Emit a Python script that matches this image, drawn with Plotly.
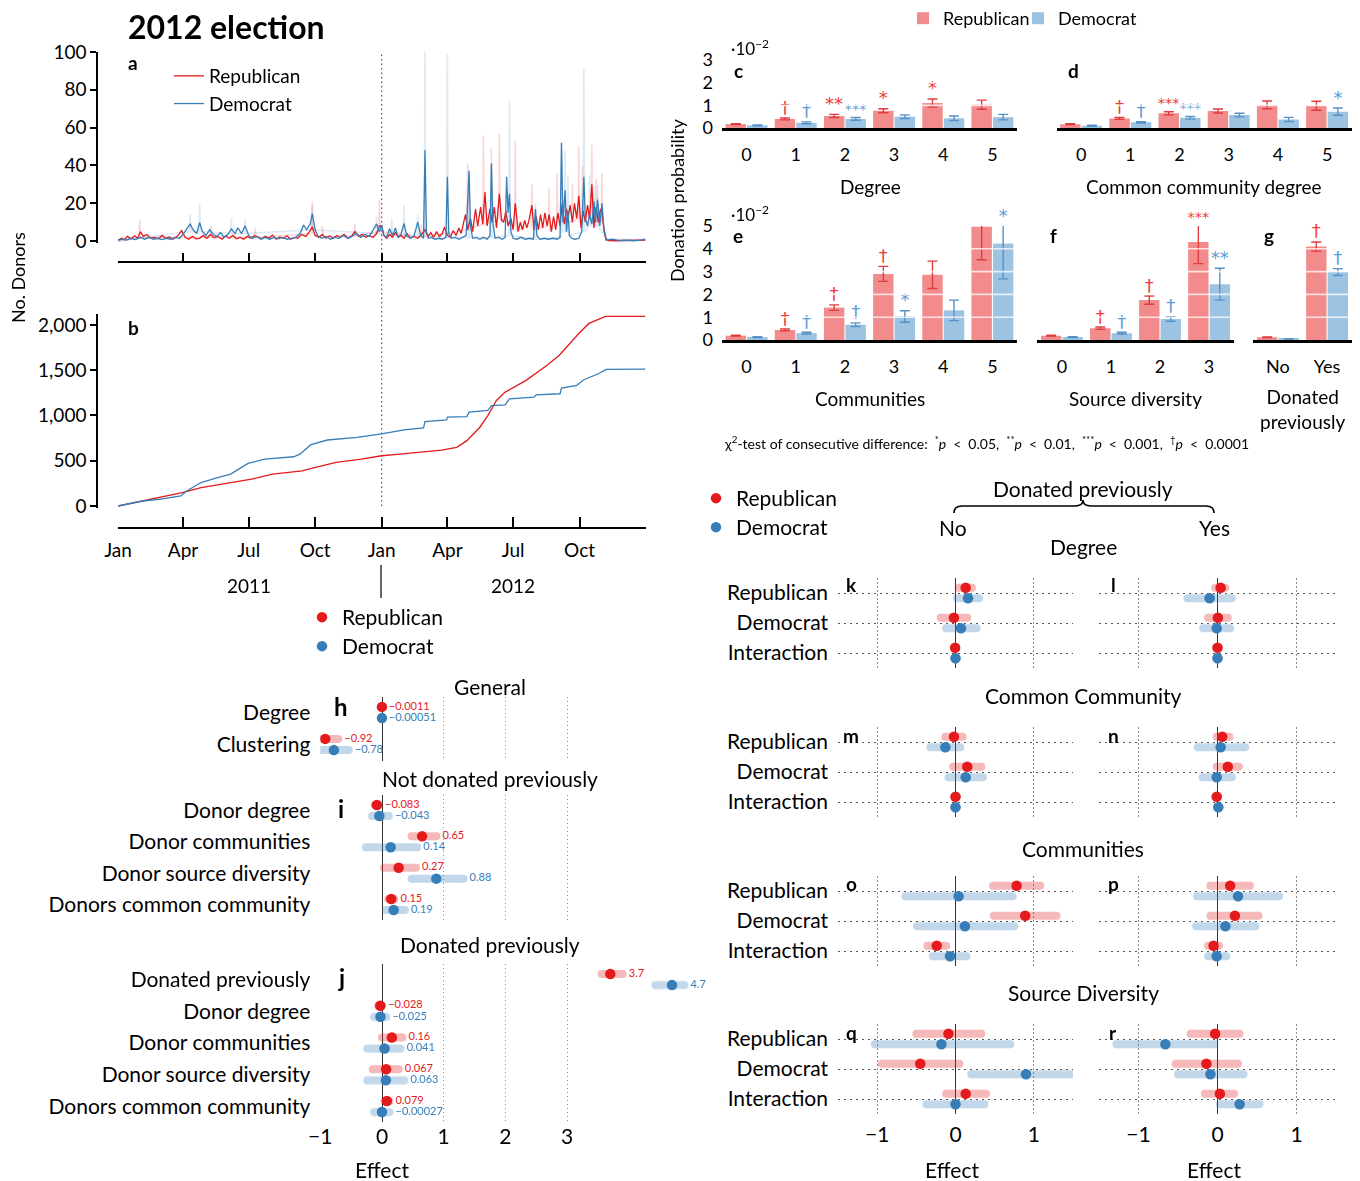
import plotly.graph_objects as go

# ======================= DATA =======================
# panel a: smoothed daily number of donors
rep_daily = [
    ('2011-01-01', 0.5), ('2011-01-06', 1.5), ('2011-01-10', 0.8), ('2011-01-14', 2.5), ('2011-01-19', 1.2),
    ('2011-01-24', 2.8), ('2011-01-28', 1.5), ('2011-02-01', 5.0), ('2011-02-05', 2.5), ('2011-02-10', 3.5),
    ('2011-02-15', 1.5), ('2011-02-20', 2.0), ('2011-02-26', 1.2), ('2011-03-03', 3.0), ('2011-03-08', 1.5),
    ('2011-03-13', 2.2), ('2011-03-18', 1.0), ('2011-03-24', 2.5), ('2011-03-30', 5.5), ('2011-04-04', 2.0),
    ('2011-04-09', 1.0), ('2011-04-14', 2.5), ('2011-04-19', 1.2), ('2011-04-24', 1.5), ('2011-04-29', 3.0),
    ('2011-05-04', 1.5), ('2011-05-09', 3.5), ('2011-05-14', 1.8), ('2011-05-19', 2.5), ('2011-05-25', 1.0),
    ('2011-05-30', 2.8), ('2011-06-04', 1.5), ('2011-06-09', 3.0), ('2011-06-14', 1.2), ('2011-06-19', 2.0),
    ('2011-06-24', 1.0), ('2011-06-29', 2.5), ('2011-07-04', 1.5), ('2011-07-09', 3.0), ('2011-07-14', 2.0),
    ('2011-07-19', 1.2), ('2011-07-24', 2.5), ('2011-07-29', 1.5), ('2011-08-03', 3.2), ('2011-08-08', 1.0),
    ('2011-08-13', 2.2), ('2011-08-18', 1.5), ('2011-08-23', 2.8), ('2011-08-28', 1.0), ('2011-09-02', 2.0),
    ('2011-09-07', 1.5), ('2011-09-12', 3.5), ('2011-09-18', 2.5), ('2011-09-23', 5.0), ('2011-09-27', 7.5),
    ('2011-10-01', 3.0), ('2011-10-06', 2.0), ('2011-10-11', 3.5), ('2011-10-16', 1.5), ('2011-10-21', 2.8),
    ('2011-10-26', 1.5), ('2011-10-31', 3.0), ('2011-11-05', 2.0), ('2011-11-10', 3.5), ('2011-11-15', 1.5),
    ('2011-11-20', 2.5), ('2011-11-25', 5.0), ('2011-11-30', 2.5), ('2011-12-05', 3.5), ('2011-12-10', 2.0),
    ('2011-12-15', 3.0), ('2011-12-20', 2.0), ('2011-12-25', 4.0), ('2011-12-29', 8.0),
    ('2012-01-01', 8.0), ('2012-01-04', 3.0), ('2012-01-08', 1.5), ('2012-01-12', 3.5), ('2012-01-16', 2.0),
    ('2012-01-20', 4.5), ('2012-01-24', 2.0), ('2012-01-28', 3.0), ('2012-02-01', 1.5), ('2012-02-05', 4.0),
    ('2012-02-10', 1.5), ('2012-02-15', 2.5), ('2012-02-20', 1.5), ('2012-02-25', 3.5), ('2012-03-01', 6.0),
    ('2012-03-05', 2.5), ('2012-03-09', 4.5), ('2012-03-13', 2.0), ('2012-03-17', 5.0), ('2012-03-21', 2.5),
    ('2012-03-25', 4.0), ('2012-03-28', 7.5), ('2012-04-01', 3.0), ('2012-04-05', 2.0), ('2012-04-09', 5.5),
    ('2012-04-13', 3.0), ('2012-04-17', 7.0), ('2012-04-20', 4.0), ('2012-04-23', 9.0), ('2012-04-26', 14.0),
    ('2012-04-29', 6.0), ('2012-05-03', 12.0), ('2012-05-06', 5.0), ('2012-05-10', 17.0), ('2012-05-13', 8.0),
    ('2012-05-17', 18.0), ('2012-05-20', 9.0), ('2012-05-23', 26.0), ('2012-05-26', 8.0), ('2012-05-30', 17.0),
    ('2012-06-02', 10.0), ('2012-06-05', 18.0), ('2012-06-08', 7.0), ('2012-06-12', 25.0), ('2012-06-15', 11.0),
    ('2012-06-18', 10.0), ('2012-06-21', 16.0), ('2012-06-24', 8.0), ('2012-06-28', 12.0), ('2012-07-01', 6.0),
    ('2012-07-04', 20.0), ('2012-07-08', 5.0), ('2012-07-11', 10.0), ('2012-07-14', 6.0), ('2012-07-17', 11.0),
    ('2012-07-20', 7.0), ('2012-07-23', 11.0), ('2012-07-27', 19.0), ('2012-07-30', 6.0), ('2012-08-02', 13.0),
    ('2012-08-05', 6.0), ('2012-08-08', 14.0), ('2012-08-11', 7.0), ('2012-08-14', 15.0), ('2012-08-17', 8.0),
    ('2012-08-20', 14.0), ('2012-08-23', 5.0), ('2012-08-26', 13.0), ('2012-08-29', 6.0), ('2012-09-01', 15.0),
    ('2012-09-04', 8.0), ('2012-09-07', 20.0), ('2012-09-10', 9.0), ('2012-09-13', 17.0), ('2012-09-15', 12.0),
    ('2012-09-18', 19.0), ('2012-09-21', 10.0), ('2012-09-24', 20.0), ('2012-09-27', 12.0), ('2012-09-30', 24.0),
    ('2012-10-03', 7.0), ('2012-10-06', 16.0), ('2012-10-09', 10.0), ('2012-10-12', 19.0), ('2012-10-15', 12.0),
    ('2012-10-18', 30.0), ('2012-10-21', 7.0), ('2012-10-24', 18.0), ('2012-10-27', 10.0), ('2012-10-30', 17.0),
    ('2012-11-01', 15.0), ('2012-11-04', 6.0), ('2012-11-07', 1.0), ('2012-11-10', 0.3), ('2012-11-20', 0.2),
    ('2012-12-01', 0.3), ('2012-12-15', 0.2), ('2012-12-31', 0.5),
]
dem_daily = [
    ('2011-01-01', 0.5), ('2011-01-07', 1.0), ('2011-01-13', 0.5), ('2011-01-19', 1.5), ('2011-01-25', 0.8),
    ('2011-02-01', 2.0), ('2011-02-07', 1.0), ('2011-02-13', 2.0), ('2011-02-19', 1.0), ('2011-02-25', 1.5),
    ('2011-03-03', 0.8), ('2011-03-09', 1.5), ('2011-03-15', 1.0), ('2011-03-21', 2.0), ('2011-03-27', 1.5),
    ('2011-04-02', 4.0), ('2011-04-07', 7.0), ('2011-04-11', 9.0), ('2011-04-15', 6.0), ('2011-04-20', 4.0),
    ('2011-04-24', 9.7), ('2011-04-28', 5.0), ('2011-05-03', 3.0), ('2011-05-08', 6.0), ('2011-05-13', 3.5),
    ('2011-05-18', 2.5), ('2011-05-23', 4.5), ('2011-05-28', 2.0), ('2011-06-02', 3.5), ('2011-06-07', 6.5),
    ('2011-06-12', 4.0), ('2011-06-16', 7.0), ('2011-06-21', 4.0), ('2011-06-26', 8.0), ('2011-07-01', 3.0),
    ('2011-07-06', 1.5), ('2011-07-12', 2.5), ('2011-07-18', 1.0), ('2011-07-24', 2.0), ('2011-07-30', 1.0),
    ('2011-08-05', 2.0), ('2011-08-11', 1.2), ('2011-08-17', 2.0), ('2011-08-23', 1.0), ('2011-08-29', 1.5),
    ('2011-09-04', 2.0), ('2011-09-10', 4.0), ('2011-09-15', 8.5), ('2011-09-19', 6.0), ('2011-09-24', 9.0),
    ('2011-09-27', 14.5), ('2011-10-01', 6.0), ('2011-10-05', 2.5), ('2011-10-10', 1.5), ('2011-10-16', 2.5),
    ('2011-10-22', 1.0), ('2011-10-28', 2.0), ('2011-11-03', 1.5), ('2011-11-09', 3.0), ('2011-11-15', 1.5),
    ('2011-11-21', 2.5), ('2011-11-27', 4.0), ('2011-12-03', 2.0), ('2011-12-09', 3.5), ('2011-12-15', 2.5),
    ('2011-12-20', 6.0), ('2011-12-25', 9.0), ('2011-12-29', 5.0),
    ('2012-01-01', 8.5), ('2012-01-04', 3.0), ('2012-01-08', 2.0), ('2012-01-12', 6.5), ('2012-01-16', 3.0),
    ('2012-01-20', 7.0), ('2012-01-24', 2.0), ('2012-01-28', 4.0), ('2012-02-01', 9.3), ('2012-02-05', 2.5),
    ('2012-02-10', 1.5), ('2012-02-15', 3.0), ('2012-02-20', 10.0), ('2012-02-24', 3.0), ('2012-02-28', 1.5),
    ('2012-03-01', 48.0), ('2012-03-03', 5.0), ('2012-03-06', 1.5), ('2012-03-10', 2.0), ('2012-03-15', 1.0),
    ('2012-03-20', 1.5), ('2012-03-25', 1.0), ('2012-03-30', 2.0), ('2012-04-01', 34.0), ('2012-04-03', 4.0),
    ('2012-04-07', 1.5), ('2012-04-12', 2.0), ('2012-04-17', 1.0), ('2012-04-22', 2.0), ('2012-04-27', 3.0),
    ('2012-05-01', 37.0), ('2012-05-03', 8.0), ('2012-05-06', 1.5), ('2012-05-11', 2.0), ('2012-05-16', 1.0),
    ('2012-05-21', 2.0), ('2012-05-26', 1.0), ('2012-05-30', 3.0), ('2012-06-01', 41.0), ('2012-06-03', 10.0),
    ('2012-06-06', 1.5), ('2012-06-11', 2.0), ('2012-06-16', 1.0), ('2012-06-20', 2.0), ('2012-06-22', 34.0),
    ('2012-06-24', 15.0), ('2012-06-26', 25.0), ('2012-06-28', 5.0), ('2012-07-01', 1.5), ('2012-07-06', 1.0),
    ('2012-07-12', 2.0), ('2012-07-18', 1.0), ('2012-07-24', 1.5), ('2012-07-29', 1.0), ('2012-08-01', 17.0),
    ('2012-08-03', 3.0), ('2012-08-07', 1.0), ('2012-08-13', 1.5), ('2012-08-19', 1.0), ('2012-08-25', 1.5),
    ('2012-08-31', 1.0), ('2012-09-04', 2.0), ('2012-09-06', 52.0), ('2012-09-08', 10.0), ('2012-09-11', 27.0),
    ('2012-09-13', 5.0), ('2012-09-15', 16.0), ('2012-09-17', 3.0), ('2012-09-20', 1.5), ('2012-09-25', 1.0),
    ('2012-09-30', 1.5), ('2012-10-04', 5.0), ('2012-10-07', 34.0), ('2012-10-09', 12.0), ('2012-10-12', 8.0),
    ('2012-10-15', 14.0), ('2012-10-18', 9.0), ('2012-10-21', 21.0), ('2012-10-23', 10.0), ('2012-10-26', 22.0),
    ('2012-10-29', 8.0), ('2012-11-01', 20.0), ('2012-11-04', 5.0), ('2012-11-07', 0.5), ('2012-11-15', 1.0),
    ('2012-11-25', 0.3), ('2012-12-05', 0.5), ('2012-12-15', 0.2), ('2012-12-25', 0.5), ('2012-12-31', 1.0),
]
# panel a: raw daily counts (faint lines, spikes)
rep_daily_raw = [
    ('2011-01-01', 0), ('2011-01-30', 2), ('2011-01-31', 11), ('2011-02-01', 2),
    ('2011-05-09', 2), ('2011-05-10', 8), ('2011-05-11', 2),
    ('2011-07-09', 2), ('2011-07-10', 7), ('2011-07-11', 2),
    ('2011-09-26', 4), ('2011-09-27', 21), ('2011-09-28', 4),
    ('2011-10-10', 2), ('2011-10-11', 8), ('2011-10-12', 2),
    ('2011-11-24', 3), ('2011-11-25', 9), ('2011-11-26', 3),
    ('2011-12-28', 5), ('2011-12-29', 22), ('2011-12-30', 5),
    ('2012-02-24', 2), ('2012-02-25', 9), ('2012-02-26', 2),
    ('2012-04-28', 6), ('2012-04-29', 41), ('2012-04-30', 6),
    ('2012-05-20', 9), ('2012-05-21', 56), ('2012-05-22', 9),
    ('2012-05-31', 10), ('2012-06-01', 49), ('2012-06-02', 10),
    ('2012-06-11', 12), ('2012-06-12', 57), ('2012-06-13', 12),
    ('2012-07-03', 8), ('2012-07-04', 53), ('2012-07-05', 6),
    ('2012-07-26', 8), ('2012-07-27', 30), ('2012-07-28', 6),
    ('2012-08-19', 8), ('2012-08-20', 28), ('2012-08-21', 6),
    ('2012-08-30', 8), ('2012-08-31', 36), ('2012-09-01', 10),
    ('2012-09-20', 10), ('2012-09-21', 30), ('2012-09-22', 10),
    ('2012-09-29', 12), ('2012-09-30', 50), ('2012-10-01', 10),
    ('2012-10-04', 10), ('2012-10-05', 40), ('2012-10-06', 12),
    ('2012-10-17', 14), ('2012-10-18', 51), ('2012-10-19', 10),
    ('2012-10-23', 10), ('2012-10-24', 33), ('2012-10-25', 10),
    ('2012-10-31', 10), ('2012-11-01', 36), ('2012-11-02', 8),
    ('2012-11-07', 0.5), ('2012-12-31', 0.5),
]
dem_daily_raw = [
    ('2011-01-01', 0), ('2011-04-10', 5), ('2011-04-11', 14), ('2011-04-12', 5),
    ('2011-04-23', 5), ('2011-04-24', 20), ('2011-04-25', 5),
    ('2011-06-06', 4), ('2011-06-07', 12), ('2011-06-08', 4),
    ('2011-06-25', 4), ('2011-06-26', 12), ('2011-06-27', 4),
    ('2011-09-26', 6), ('2011-09-27', 19), ('2011-09-28', 6),
    ('2011-12-24', 4), ('2011-12-25', 13), ('2011-12-26', 4),
    ('2012-01-14', 3), ('2012-01-15', 12), ('2012-01-16', 3),
    ('2012-01-31', 3), ('2012-02-01', 19), ('2012-02-02', 3),
    ('2012-02-19', 3), ('2012-02-20', 14), ('2012-02-21', 3),
    ('2012-02-29', 3), ('2012-03-01', 100), ('2012-03-02', 3),
    ('2012-03-31', 2), ('2012-04-01', 99), ('2012-04-02', 2),
    ('2012-04-30', 2), ('2012-05-01', 38), ('2012-05-02', 2),
    ('2012-05-31', 2), ('2012-06-01', 41), ('2012-06-02', 2),
    ('2012-06-25', 3), ('2012-06-26', 74), ('2012-06-27', 3),
    ('2012-07-31', 1), ('2012-08-01', 20), ('2012-08-02', 1),
    ('2012-09-05', 2), ('2012-09-06', 52), ('2012-09-07', 5),
    ('2012-09-10', 5), ('2012-09-11', 48), ('2012-09-12', 5),
    ('2012-09-14', 5), ('2012-09-15', 35), ('2012-09-16', 3),
    ('2012-10-06', 5), ('2012-10-07', 91), ('2012-10-08', 5),
    ('2012-10-14', 8), ('2012-10-15', 35), ('2012-10-16', 8),
    ('2012-10-20', 8), ('2012-10-21', 29), ('2012-10-22', 8),
    ('2012-10-25', 8), ('2012-10-26', 30), ('2012-10-27', 8),
    ('2012-11-07', 1), ('2012-12-31', 1),
]
# panel b: cumulative number of donors
rep_cumulative = [
    ('2011-01-01', 0), ('2011-02-04', 55), ('2011-02-27', 92), ('2011-03-31', 148), ('2011-04-26', 203),
    ('2011-06-06', 260), ('2011-07-05', 296), ('2011-08-03', 352), ('2011-09-13', 389), ('2011-09-30', 425),
    ('2011-10-30', 481), ('2011-12-04', 518), ('2012-01-01', 555), ('2012-01-26', 573), ('2012-02-24', 592),
    ('2012-03-24', 618), ('2012-04-14', 648), ('2012-04-28', 722), ('2012-05-16', 870), ('2012-05-27', 999),
    ('2012-06-08', 1166), ('2012-06-20', 1258), ('2012-07-19', 1388), ('2012-08-17', 1554), ('2012-09-03', 1665),
    ('2012-09-30', 1906), ('2012-10-14', 2017), ('2012-11-03', 2091), ('2012-11-06', 2094), ('2012-12-31', 2094),
]
dem_cumulative = [
    ('2011-01-01', 0), ('2011-02-04', 55), ('2011-02-27', 74), ('2011-03-29', 111), ('2011-04-06', 166),
    ('2011-04-26', 259), ('2011-05-20', 315), ('2011-06-06', 352), ('2011-06-30', 470), ('2011-07-23', 518),
    ('2011-09-01', 544), ('2011-09-10', 573), ('2011-09-25', 677), ('2011-10-18', 729), ('2011-11-28', 759),
    ('2012-01-01', 796), ('2012-02-01', 840), ('2012-02-28', 862), ('2012-03-01', 932), ('2012-03-31', 951),
    ('2012-04-01', 981), ('2012-04-28', 988), ('2012-05-01', 1036), ('2012-05-27', 1055), ('2012-06-01', 1110),
    ('2012-06-20', 1117), ('2012-06-26', 1184), ('2012-07-30', 1203), ('2012-08-02', 1228), ('2012-09-04', 1240),
    ('2012-09-06', 1302), ('2012-09-27', 1332), ('2012-10-07', 1395), ('2012-10-27', 1461), ('2012-11-07', 1510),
    ('2012-12-31', 1513),
]
quarter_ticks = ['2011-01-01', '2011-04-01', '2011-07-01', '2011-10-01', '2012-01-01',
                 '2012-04-01', '2012-07-01', '2012-10-01', '2013-01-01']
quarter_labels = ['Jan', 'Apr', 'Jul', 'Oct', 'Jan', 'Apr', 'Jul', 'Oct', ' ']
a_yticks = [0, 20, 40, 60, 80, 100]
b_yticks = [0, 500, 1000, 1500, 2000]
b_yticklabels = ['0', '500', '1,000', '1,500', '2,000']

# panels c-g: donation probability (x 10^-2)
cats6 = [0, 1, 2, 3, 4, 5]
cats4 = [0, 1, 2, 3]
cats_prev = ['No', 'Yes']
c_rep = [0.17, 0.40, 0.53, 0.76, 1.10, 1.03]
c_rep_err = [0.02, 0.04, 0.07, 0.09, 0.18, 0.20]
c_dem = [0.12, 0.23, 0.40, 0.50, 0.43, 0.48]
c_dem_err = [0.02, 0.04, 0.06, 0.08, 0.10, 0.12]
c_rep_sig = ['', '†', '**', '*', '*', '']
c_dem_sig = ['', '†', '***', '', '', '']
d_rep = [0.17, 0.42, 0.65, 0.75, 1.02, 0.98]
d_rep_err = [0.02, 0.04, 0.07, 0.09, 0.17, 0.20]
d_dem = [0.10, 0.25, 0.45, 0.57, 0.38, 0.72]
d_dem_err = [0.02, 0.03, 0.06, 0.08, 0.09, 0.16]
d_rep_sig = ['', '†', '***', '', '', '']
d_dem_sig = ['', '†', '***', '', '', '*']
e_rep = [0.19, 0.44, 1.42, 2.90, 2.86, 4.97]
e_rep_err = [0.02, 0.04, 0.12, 0.33, 0.60, 1.45]
e_dem = [0.13, 0.30, 0.67, 1.03, 1.30, 4.23]
e_dem_err = [0.02, 0.04, 0.08, 0.25, 0.45, 1.55]
e_rep_sig = ['', '†', '†', '†', '', '']
e_dem_sig = ['', '†', '†', '*', '', '*']
f_rep = [0.19, 0.52, 1.75, 4.30]
f_rep_err = [0.02, 0.05, 0.18, 0.95]
f_dem = [0.13, 0.30, 0.92, 2.45]
f_dem_err = [0.02, 0.04, 0.10, 0.70]
f_rep_sig = ['', '†', '†', '***']
f_dem_sig = ['', '†', '†', '**']
g_rep = [0.12, 4.10]
g_rep_err = [0.01, 0.20]
g_dem = [0.05, 2.98]
g_dem_err = [0.01, 0.15]
g_rep_sig = ['', '†']
g_dem_sig = ['', '†']

# panels h-j: effects (estimate, CI low, CI high)
h_rows = ['Degree', 'Clustering']
h_rep = ([-0.0011, -0.92], [-0.012, -1.07], [0.010, -0.71])
h_dem = ([-0.00051, -0.78], [-0.012, -0.99], [0.010, -0.54])
i_rows = ['Donor degree', 'Donor communities', 'Donor source diversity', 'Donors common community']
i_rep = ([-0.083, 0.65, 0.27, 0.15], [-0.12, 0.48, 0.03, 0.10], [-0.05, 0.88, 0.55, 0.20])
i_dem = ([-0.043, 0.14, 0.88, 0.19], [-0.16, -0.26, 0.48, 0.06], [0.11, 0.57, 1.32, 0.37])
j_rows = ['Donated previously', 'Donor degree', 'Donor communities', 'Donor source diversity',
          'Donors common community']
j_rep = ([3.7, -0.028, 0.16, 0.067, 0.079], [3.56, -0.06, 0.0, -0.15, 0.04], [3.90, 0.0, 0.33, 0.27, 0.12])
j_dem = ([4.7, -0.025, 0.041, 0.063, -0.00027], [4.43, -0.13, -0.24, -0.24, -0.13],
         [4.90, 0.07, 0.30, 0.36, 0.12])

# panels k-r: interaction models
kr_rows = ['Republican', 'Democrat', 'Interaction']
k_rep = ([0.13, -0.02, -0.005], [0.04, -0.19, -0.02], [0.21, 0.15, 0.01])
k_dem = ([0.16, 0.07, 0.0], [0.02, -0.12, -0.015], [0.30, 0.27, 0.015])
l_rep = ([0.04, 0.005, 0.0], [-0.03, -0.12, -0.015], [0.10, 0.13, 0.015])
l_dem = ([-0.10, -0.01, 0.0], [-0.38, -0.18, -0.015], [0.18, 0.16, 0.015])
m_rep = ([-0.02, 0.15, 0.0], [-0.13, -0.03, -0.015], [0.09, 0.33, 0.015])
m_dem = ([-0.13, 0.13, 0.0], [-0.32, -0.09, -0.015], [0.06, 0.35, 0.015])
n_rep = ([0.06, 0.13, -0.01], [-0.01, -0.01, -0.025], [0.15, 0.27, 0.005])
n_dem = ([0.04, -0.01, 0.01], [-0.25, -0.19, -0.005], [0.35, 0.18, 0.025])
o_rep = ([0.78, 0.89, -0.24], [0.48, 0.49, -0.36], [1.08, 1.29, -0.12])
o_dem = ([0.04, 0.12, -0.07], [-0.64, -0.49, -0.29], [0.73, 0.75, 0.14])
p_rep = ([0.16, 0.22, -0.05], [-0.09, -0.09, -0.12], [0.41, 0.52, 0.02])
p_dem = ([0.26, 0.10, -0.01], [-0.26, -0.27, -0.12], [0.78, 0.48, 0.11])
q_rep = ([-0.09, -0.45, 0.13], [-0.50, -0.94, -0.12], [0.33, 0.05, 0.39])
q_dem = ([-0.18, 0.90, 0.0], [-1.03, 0.20, -0.37], [0.70, 1.62, 0.37])
r_rep = ([-0.03, -0.14, 0.03], [-0.34, -0.53, -0.16], [0.28, 0.26, 0.21])
r_dem = ([-0.66, -0.09, 0.28], [-1.28, -0.50, 0.03], [-0.04, 0.33, 0.53])

# ======================= STYLE / HELPERS =======================
OFF = 8                      # page body margin of the html page
W, H = 1360, 1181
FONT = 'Lato'
RED = '#e41a1c'
BLUE = '#377eb8'
BAR_RED = '#f28b8b'
BAR_BLUE = '#9dc3e2'
ERR_RED = '#e03c3c'
ERR_BLUE = '#5592c8'
SIG_RED = '#ee3b3b'
SIG_BLUE = '#5b9bd5'


def X(p):
    return (p - OFF) / W


def Y(p):
    return 1 - (p - OFF) / H


def xr(n):
    return 'x' if n == 1 else f'x{n}'


def yr(n):
    return 'y' if n == 1 else f'y{n}'


def fmt(v):
    return '{:.2g}'.format(v).replace('-', '\u2212')


fig = go.Figure()
L = {}
shapes = []
ann = []


def add_axes(n, xa, ya):
    xa['automargin'] = False
    ya['automargin'] = False
    L['xaxis' if n == 1 else f'xaxis{n}'] = xa
    L['yaxis' if n == 1 else f'yaxis{n}'] = ya


def note(px, py, text, size=18, xanchor='center', bold=False, angle=0, color='black', yanchor='middle'):
    if bold:
        text = f'<b>{text}</b>'
    ann.append(dict(x=X(px), y=Y(py), xref='paper', yref='paper', text=text, showarrow=False,
                    xanchor=xanchor, yanchor=yanchor, textangle=angle,
                    font=dict(size=size, color=color, family=FONT)))


# ======================= PANEL a =======================
add_axes(1,
         dict(domain=[X(118), X(646)], type='date', range=['2011-01-01', '2013-01-01'], anchor='free',
              position=Y(262), showline=True, linecolor='black', linewidth=1.5, ticks='inside', ticklen=8,
              tickwidth=1.5, tickcolor='black', tickvals=quarter_ticks, showticklabels=False,
              showgrid=False, zeroline=False),
         dict(domain=[Y(243), Y(52)], range=[-1, 100], anchor='free', position=X(97), showline=True,
              linecolor='black', linewidth=1.5, ticks='outside', ticklen=6, tickwidth=1.5, tickcolor='black',
              tickvals=a_yticks, showgrid=False, zeroline=False, tickfont=dict(size=19)))
for series, col in [(rep_daily_raw, 'rgba(228,26,28,0.17)'), (dem_daily_raw, 'rgba(55,126,184,0.17)')]:
    fig.add_trace(go.Scatter(x=[d for d, _ in series], y=[v for _, v in series], mode='lines',
                             line=dict(color=col, width=1.6), showlegend=False, hoverinfo='skip',
                             xaxis='x', yaxis='y'))
for series, col, nm in [(rep_daily, RED, 'Republican'), (dem_daily, BLUE, 'Democrat')]:
    fig.add_trace(go.Scatter(x=[d for d, _ in series], y=[v for _, v in series], mode='lines',
                             line=dict(color=col, width=1.3), name=nm, legend='legend',
                             xaxis='x', yaxis='y'))

# ======================= PANEL b =======================
add_axes(2,
         dict(domain=[X(118), X(646)], type='date', range=['2011-01-01', '2013-01-01'], anchor='free',
              position=Y(528), showline=True, linecolor='black', linewidth=1.5, ticks='inside', ticklen=10,
              tickwidth=1.5, tickcolor='black', tickvals=quarter_ticks, ticktext=quarter_labels,
              tickfont=dict(size=19), ticklabelstandoff=5, showgrid=False, zeroline=False),
         dict(domain=[Y(507.8), Y(314.1)], range=[-20, 2120], anchor='free', position=X(97), showline=True,
              linecolor='black', linewidth=1.5, ticks='outside', ticklen=6, tickwidth=1.5, tickcolor='black',
              tickvals=b_yticks, ticktext=b_yticklabels, showgrid=False, zeroline=False,
              tickfont=dict(size=19)))
for series, col in [(rep_cumulative, RED), (dem_cumulative, BLUE)]:
    fig.add_trace(go.Scatter(x=[d for d, _ in series], y=[v for _, v in series], mode='lines',
                             line=dict(color=col, width=1.3), showlegend=False, xaxis='x2', yaxis='y2'))

# ======================= PANELS c-g =======================
bar_panels = [
    (3, (722, 1017), (128, 60), 3, cats6, [str(c) for c in cats6], c_rep, c_rep_err, c_dem, c_dem_err,
     c_rep_sig, c_dem_sig, True),
    (4, (1056.5, 1351.7), (128, 60), 3, cats6, [str(c) for c in cats6], d_rep, d_rep_err, d_dem, d_dem_err,
     d_rep_sig, d_dem_sig, False),
    (5, (722, 1017), (340, 226), 5, cats6, [str(c) for c in cats6], e_rep, e_rep_err, e_dem, e_dem_err,
     e_rep_sig, e_dem_sig, True),
    (6, (1037.4, 1233.6), (340, 226), 5, cats4, [str(c) for c in cats4], f_rep, f_rep_err, f_dem, f_dem_err,
     f_rep_sig, f_dem_sig, False),
    (7, (1253.4, 1351.6), (340, 226), 5, [0, 1], cats_prev, g_rep, g_rep_err, g_dem, g_dem_err,
     g_rep_sig, g_dem_sig, False),
]
for (n, xd, yd, ymax, cats, catlab, rv, re, dv, de, rs, ds, showy) in bar_panels:
    add_axes(n,
             dict(domain=[X(xd[0]), X(xd[1])], range=[-0.5, len(cats) - 0.5], anchor=yr(n), showline=True,
                  linecolor='black', linewidth=2.5, ticks='', tickvals=cats, ticktext=catlab,
                  tickfont=dict(size=18), ticklabelstandoff=9, showgrid=False, zeroline=False),
             dict(domain=[Y(yd[0]), Y(yd[1])], range=[0, ymax], anchor=xr(n), showline=False, ticks='',
                  tickvals=list(range(ymax + 1)), showticklabels=showy, tickfont=dict(size=18),
                  ticklabelstandoff=8, showgrid=False, zeroline=False))
    first = (n == 3)
    fig.add_trace(go.Bar(x=cats, y=rv, name='Republican', marker=dict(color=BAR_RED, line=dict(width=0)),
                         error_y=dict(type='data', array=re, color=ERR_RED, thickness=1.4, width=5),
                         showlegend=first, legend='legend2', xaxis=xr(n), yaxis=yr(n)))
    fig.add_trace(go.Bar(x=cats, y=dv, name='Democrat', marker=dict(color=BAR_BLUE, line=dict(width=0)),
                         error_y=dict(type='data', array=de, color=ERR_BLUE, thickness=1.4, width=5),
                         showlegend=first, legend='legend5', xaxis=xr(n), yaxis=yr(n)))
    for vals, errs, sigs, col, shift in [(rv, re, rs, SIG_RED, -0.22), (dv, de, ds, SIG_BLUE, 0.22)]:
        xt, yt, tt, sz = [], [], [], []
        for c, v, e, s in zip(cats, vals, errs, sigs):
            if s:
                xt.append(c + shift)
                yt.append(min(v + e, ymax))
                tt.append(s)
                sz.append(14.5 if len(s) > 2 else 18)
        fig.add_trace(go.Scatter(x=xt, y=yt, text=tt, mode='text', textposition='top center',
                                 textfont=dict(color=col, size=sz, family='DejaVu Sans'), cliponaxis=False,
                                 showlegend=False, hoverinfo='skip', xaxis=xr(n), yaxis=yr(n)))
    for k in range(1, ymax):
        shapes.append(dict(type='line', xref=f'{xr(n)} domain', x0=0, x1=1, yref=yr(n), y0=k, y1=k,
                           line=dict(color='white', width=1.6), opacity=0.75, layer='above'))


# ======================= FOREST PANELS h-r =======================
def forest(n, xd, yd, xrange, xticks, rows, rep, dem, showx, showy, hgrid, labels, legend_name, xstand):
    nr = len(rows)
    off = 0.175
    add_axes(n,
             dict(domain=[X(xd[0]), X(xd[1])], range=xrange, anchor=yr(n), tickvals=xticks,
                  showticklabels=showx, ticks='', showgrid=True, gridcolor='#8c8c8c', griddash='1.5px,2.5px',
                  gridwidth=1.2, zeroline=True, zerolinecolor='#333', zerolinewidth=1.3, showline=False,
                  tickfont=dict(size=21), ticklabelstandoff=xstand),
             dict(domain=[Y(yd[1]), Y(yd[0])], range=[nr - 0.5, -0.5], anchor=xr(n),
                  tickvals=list(range(nr)), ticktext=rows, showticklabels=showy, ticks='',
                  showgrid=hgrid, gridcolor='#555', griddash='1.5px,4.5px', gridwidth=1.3, zeroline=False,
                  showline=False, tickfont=dict(size=21), ticklabelstandoff=9))
    for (est, lo, hi), col, sgn, nm in [(rep, RED, -1, 'Republican'), (dem, BLUE, 1, 'Democrat')]:
        ys = [i + sgn * off for i in range(nr)]
        cx, cy = [], []
        for a, b, yy in zip(lo, hi, ys):
            cx += [a, b, None]
            cy += [yy, yy, None]
        fig.add_trace(go.Scatter(x=cx, y=cy, mode='lines+markers', line=dict(color=col, width=8),
                                 marker=dict(color=col, size=8), opacity=0.3, showlegend=False,
                                 hoverinfo='skip', xaxis=xr(n), yaxis=yr(n)))
        fig.add_trace(go.Scatter(x=est, y=ys, mode='markers', marker=dict(color=col, size=10.5), name=nm,
                                 showlegend=legend_name is not None,
                                 legend=(legend_name[0] if sgn < 0 else legend_name[1]) if legend_name else 'legend',
                                 xaxis=xr(n), yaxis=yr(n)))
        if labels:
            tx = [max(h, e) + 0.1 for e, h in zip(est, hi)]
            fig.add_trace(go.Scatter(x=tx, y=ys, mode='text', text=[fmt(e) for e in est],
                                     textposition='middle right', textfont=dict(color=col, size=11),
                                     cliponaxis=False, showlegend=False, hoverinfo='skip',
                                     xaxis=xr(n), yaxis=yr(n)))


HX = (320.3, 690.5)
forest(8, HX, (696.5, 760.5), [-1, 5], [-1, 0, 1, 2, 3], h_rows, h_rep, h_dem, False, True, False, True,
       ('legend3', 'legend6'), 2)
forest(9, HX, (794.8, 920.2), [-1, 5], [-1, 0, 1, 2, 3], i_rows, i_rep, i_dem, False, True, False, True,
       None, 2)
forest(10, HX, (963.6, 1122.4), [-1, 5], [-1, 0, 1, 2, 3], j_rows, j_rep, j_dem, True, True, False, True,
       None, 0)
KX, LX = (838, 1073), (1099, 1336)
kr_specs = [
    (11, KX, (578, 668), k_rep, k_dem, False, True, ('legend4', 'legend7')),
    (12, LX, (578, 668), l_rep, l_dem, False, False, None),
    (13, KX, (727, 817), m_rep, m_dem, False, True, None),
    (14, LX, (727, 817), n_rep, n_dem, False, False, None),
    (15, KX, (876, 966), o_rep, o_dem, False, True, None),
    (16, LX, (876, 966), p_rep, p_dem, False, False, None),
    (17, KX, (1024, 1114), q_rep, q_dem, True, True, None),
    (18, LX, (1024, 1114), r_rep, r_dem, True, False, None),
]
for (n, xd, yd, rep, dem, showx, showy, lg) in kr_specs:
    forest(n, xd, yd, [-1.5, 1.5], [-1, 0, 1], kr_rows, rep, dem, showx, showy, True, False, lg, 6)

# ======================= ANNOTATIONS / SHAPES =======================
note(126, 26, '2012 election', size=32, xanchor='left', bold=True)
for letter, px, py in [('a', 133, 62), ('b', 133, 327), ('c', 738, 70), ('d', 1073, 70), ('e', 738, 236),
                       ('f', 1053, 236), ('g', 1269, 236), ('k', 851, 584), ('l', 1113, 584),
                       ('m', 851, 735), ('n', 1113, 735), ('o', 851, 883), ('p', 1113, 883),
                       ('q', 851, 1032), ('r', 1113, 1032)]:
    note(px, py, letter, size=19, bold=True)
for letter, px, py in [('h', 341, 706), ('i', 341, 808), ('j', 341, 977)]:
    note(px, py, letter, size=24, bold=True)
note(18, 278, 'No. Donors', size=18, angle=-90)
note(249, 585, '2011', size=19)
note(513, 585, '2012', size=19)
note(729, 47, '·10<sup>\u22122</sup>', size=17, xanchor='left')
note(729, 214, '·10<sup>\u22122</sup>', size=17, xanchor='left')
note(677, 200, 'Donation probability', size=18, angle=-90)
note(870, 186, 'Degree', size=19)
note(1204, 186, 'Common community degree', size=19)
note(870, 398, 'Communities', size=19)
note(1135, 398, 'Source diversity', size=19)
note(1302, 409, 'Donated<br>previously', size=19)
SP = '\u2002'
note(722, 443, '\u03c7<sup>2</sup>-test of consecutive difference:' + SP
     + f'<sup>*</sup><i>p</i>{SP}&lt;{SP}0.05,{SP}'
     + f'<sup>**</sup><i>p</i>{SP}&lt;{SP}0.01,{SP}'
     + f'<sup>***</sup><i>p</i>{SP}&lt;{SP}0.001,{SP}'
     + f'<sup>\u2020</sup><i>p</i>{SP}&lt;{SP}0.0001',
     size=14, xanchor='left')
note(490, 686, 'General', size=21)
note(490, 778, 'Not donated previously', size=21)
note(490, 944, 'Donated previously', size=21)
note(382, 1169, 'Effect', size=21)
note(952, 1169, 'Effect', size=21)
note(1214, 1169, 'Effect', size=21)
note(1083, 488, 'Donated previously', size=21)
note(953, 527, 'No', size=21)
note(1214, 527, 'Yes', size=21)
note(1083, 546, 'Degree', size=21)
note(1083, 695, 'Common Community', size=21)
note(1083, 848, 'Communities', size=21)
note(1083, 992, 'Source Diversity', size=21)

# dotted line at Jan 2012 through panels a and b
shapes.append(dict(type='line', xref='x', yref='paper', x0='2012-01-01', x1='2012-01-01', y0=Y(506), y1=Y(52),
                   line=dict(color='#555', width=1.2, dash='1.5px,3px'), layer='below'))
# year separator
shapes.append(dict(type='line', xref='paper', yref='paper', x0=X(381), x1=X(381), y0=Y(598), y1=Y(565),
                   line=dict(color='black', width=1.2)))


# curly brace over No / Yes
def P(px, py):
    return f'{X(px):.5f},{Y(py):.5f}'


brace = (f'M {P(954, 513)} Q {P(954, 506)} {P(962, 506)} L {P(1075, 506)} Q {P(1083, 506)} {P(1083, 500)} '
         f'Q {P(1083, 506)} {P(1091, 506)} L {P(1206, 506)} Q {P(1214, 506)} {P(1214, 513)}')
shapes.append(dict(type='path', xref='paper', yref='paper', path=brace, line=dict(color='black', width=1.6)))

legend_common = dict(bgcolor='rgba(0,0,0,0)', borderwidth=0, xanchor='left', yanchor='top',
                     tracegroupgap=0, itemclick=False, itemdoubleclick=False)
L.update(
    width=W, height=H, margin=dict(l=0, r=0, t=0, b=0, pad=0, autoexpand=False),
    paper_bgcolor='white', plot_bgcolor='white',
    font=dict(family=FONT, size=18, color='black'),
    barmode='group', bargap=0.125, bargroupgap=0.05, hovermode=False, showlegend=True,
    legend=dict(x=X(169), y=Y(57), font=dict(size=19), **legend_common),
    legend2=dict(x=X(903), y=Y(0), font=dict(size=18), itemwidth=30, **legend_common),
    legend5=dict(x=X(1018), y=Y(0), font=dict(size=18), itemwidth=30, **legend_common),
    legend3=dict(x=X(302), y=Y(597), font=dict(size=21), itemwidth=30, **legend_common),
    legend6=dict(x=X(302), y=Y(626), font=dict(size=21), itemwidth=30, **legend_common),
    legend4=dict(x=X(696), y=Y(478), font=dict(size=21), itemwidth=30, **legend_common),
    legend7=dict(x=X(696), y=Y(507), font=dict(size=21), itemwidth=30, **legend_common),
    annotations=ann, shapes=shapes,
)
fig.update_layout(**L)
fig.write_html('out.html')
